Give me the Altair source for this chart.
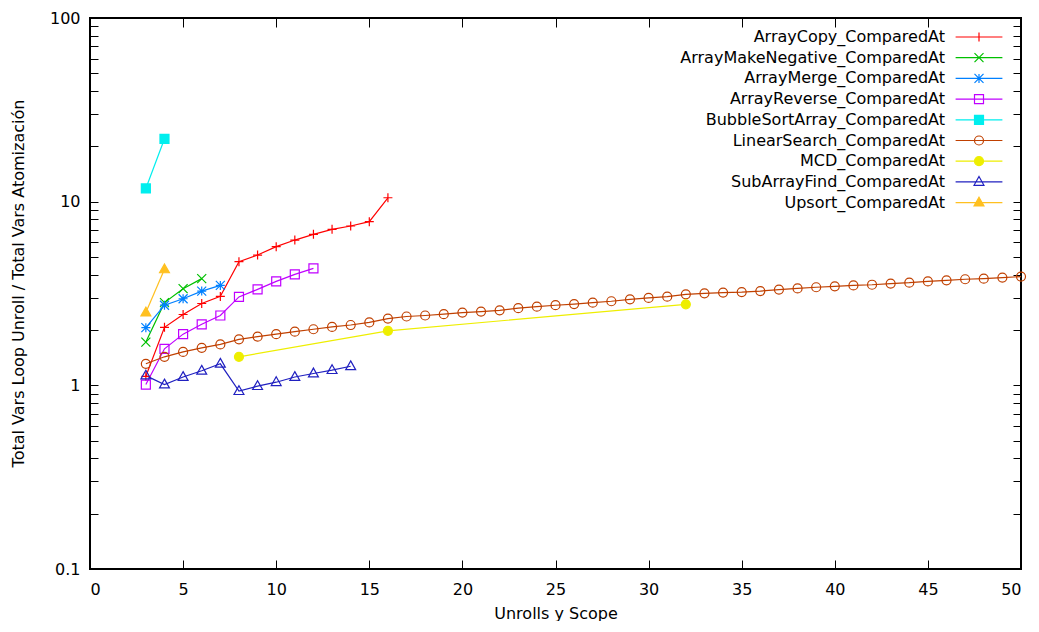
import altair as alt
import pandas as pd

series_names = [
    "ArrayCopy_ComparedAt",
    "ArrayMakeNegative_ComparedAt",
    "ArrayMerge_ComparedAt",
    "ArrayReverse_ComparedAt",
    "BubbleSortArray_ComparedAt",
    "LinearSearch_ComparedAt",
    "MCD_ComparedAt",
    "SubArrayFind_ComparedAt",
    "Upsort_ComparedAt",
]
colors = ["#ff0000", "#00c000", "#0080ff", "#c000ff", "#00eeee",
          "#c04000", "#eeee00", "#2020c0", "#ffc020"]

array_copy_x = [3, 4, 5, 6, 7, 8, 9, 10, 11, 12, 13, 14, 15, 16]
array_copy_y = [1.12, 2.07, 2.43, 2.79, 3.05, 4.71, 5.12, 5.69, 6.18, 6.64, 7.07, 7.37, 7.78, 10.5]

array_make_negative_x = [3, 4, 5, 6]
array_make_negative_y = [1.72, 2.82, 3.36, 3.81]

array_merge_x = [3, 4, 5, 6, 7]
array_merge_y = [2.06, 2.73, 2.96, 3.26, 3.50]

array_reverse_x = [3, 4, 5, 6, 7, 8, 9, 10, 11, 12]
array_reverse_y = [1.01, 1.58, 1.90, 2.15, 2.40, 3.03, 3.33, 3.68, 4.02, 4.33]

bubble_sort_x = [3, 4]
bubble_sort_y = [11.8, 22.0]

linear_search_x = list(range(3, 51))
linear_search_y = [1.31, 1.43, 1.52, 1.60, 1.67, 1.78, 1.84, 1.90, 1.96, 2.02,
                   2.08, 2.13, 2.20, 2.31, 2.37, 2.40, 2.44, 2.49, 2.52, 2.56,
                   2.63, 2.68, 2.73, 2.77, 2.82, 2.87, 2.94, 2.99, 3.04, 3.13,
                   3.17, 3.20, 3.22, 3.26, 3.32, 3.37, 3.42, 3.46, 3.50, 3.53,
                   3.58, 3.62, 3.68, 3.73, 3.78, 3.81, 3.86, 3.91]

mcd_x = [8, 16, 32]
mcd_y = [1.43, 1.98, 2.76]

sub_array_find_x = [3, 4, 5, 6, 7, 8, 9, 10, 11, 12, 13, 14]
sub_array_find_y = [1.13, 1.01, 1.11, 1.20, 1.31, 0.93, 0.99, 1.04, 1.11, 1.16, 1.21, 1.27]

upsort_x = [3, 4]
upsort_y = [2.49, 4.28]

x_ticks = [0, 5, 10, 15, 20, 25, 30, 35, 40, 45, 50]
y_ticks = [0.1, 0.2, 0.3, 0.4, 0.5, 0.6, 0.7, 0.8, 0.9,
           1, 2, 3, 4, 5, 6, 7, 8, 9,
           10, 20, 30, 40, 50, 60, 70, 80, 90, 100]

all_x = [array_copy_x, array_make_negative_x, array_merge_x, array_reverse_x,
         bubble_sort_x, linear_search_x, mcd_x, sub_array_find_x, upsort_x]
all_y = [array_copy_y, array_make_negative_y, array_merge_y, array_reverse_y,
         bubble_sort_y, linear_search_y, mcd_y, sub_array_find_y, upsort_y]

rows = []
for name, xs, ys in zip(series_names, all_x, all_y):
    for xv, yv in zip(xs, ys):
        rows.append({"x": xv, "y": yv, "series": name})
df = pd.DataFrame(rows)

# marker shapes (gnuplot style)
PLUS = "M-1,0H1M0,-1V1"
CROSS = "M-1,-1L1,1M-1,1L1,-1"
STAR = PLUS + CROSS
SQUARE = "M-1,-1H1V1H-1Z"
CIRCLE = "M-1,0A1,1 0 1,0 1,0A1,1 0 1,0 -1,0Z"
TRIANGLE = "M0,-1.2L1.1,0.75H-1.1Z"
marker_paths = [PLUS, CROSS, STAR, SQUARE, SQUARE, CIRCLE, CIRCLE, TRIANGLE, TRIANGLE]
marker_fills = ["transparent", "transparent", "transparent", "transparent", colors[4],
                "transparent", colors[6], "transparent", colors[8]]
LEG_LINE = "M-5.2,0H5.2"
legend_paths = [LEG_LINE + p for p in marker_paths]

FONT = "DejaVu Sans"
W, H = 931, 551
XT, YT = 9, 8  # inward tick lengths

xscale = alt.Scale(domain=[0, 50], nice=False, zero=False)
yscale = alt.Scale(type="log", domain=[0.1, 100], nice=False)
color_scale = alt.Scale(domain=series_names, range=colors)

major = "(datum.value==0.1||datum.value==1||datum.value==10||datum.value==100)"

base = alt.Chart(df)

# axes are pulled inside the frame by their tick length so ticks point inward
lines = base.mark_line(strokeWidth=1.2).encode(
    x=alt.X("x:Q", scale=xscale,
            axis=alt.Axis(orient="bottom", values=x_ticks, grid=False, domain=False,
                          ticks=True, tickSize=XT, offset=-XT, labelPadding=12,
                          title="Unrolls y Scope", titleY=44 + XT, titleBaseline="middle")),
    y=alt.Y("y:Q", scale=yscale,
            axis=alt.Axis(orient="left", values=y_ticks, grid=False, format="~g",
                          labelExpr=f"{major} ? datum.label : ''",
                          domain=False, ticks=True, tickSize=YT, offset=-YT, labelPadding=10,
                          title="Total Vars Loop Unroll / Total Vars Atomización",
                          titleX=-72 - YT, titleY=265, titleBaseline="middle")),
    color=alt.Color("series:N", scale=color_scale, legend=None),
    detail="series:N",
)

points = base.mark_point(size=81, strokeWidth=1.2, opacity=1, filled=False).encode(
    x=alt.X("x:Q", scale=xscale,
            axis=alt.Axis(orient="top", values=x_ticks, grid=False, domain=False,
                          labels=False, ticks=True, tickSize=XT, offset=-XT, title=None)),
    y=alt.Y("y:Q", scale=yscale,
            axis=alt.Axis(orient="right", values=y_ticks, grid=False, domain=False,
                          labels=False, ticks=True, tickSize=YT, offset=-YT, title=None)),
    color=alt.Color("series:N", scale=color_scale, legend=None),
    fill=alt.Fill("series:N", scale=alt.Scale(domain=series_names, range=marker_fills), legend=None),
    shape=alt.Shape("series:N", scale=alt.Scale(domain=series_names, range=marker_paths), legend=None),
)

leg = alt.Legend(orient="none", legendX=881, legendY=11, title=None,
                 labelAlign="right", labelOffset={"expr": "-42"}, labelFont=FONT,
                 labelFontSize=16, labelColor="black", labelLimit=400,
                 symbolSize=81, symbolStrokeWidth=1.2, rowPadding=4.7,
                 symbolOpacity=1, padding=0)

legend_layer = base.transform_filter("false").mark_point(size=81, strokeWidth=1.2, opacity=1, filled=False).encode(
    x=alt.X("x:Q", scale=xscale, axis=None),
    y=alt.Y("y:Q", scale=yscale, axis=None),
    stroke=alt.Stroke("series:N", scale=alt.Scale(domain=series_names, range=colors), legend=leg),
    fill=alt.Fill("series:N", scale=alt.Scale(domain=series_names, range=marker_fills), legend=leg),
    shape=alt.Shape("series:N", scale=alt.Scale(domain=series_names, range=legend_paths), legend=leg),
)

chart = alt.layer(lines, points, legend_layer).resolve_scale(
    stroke="independent", fill="independent", shape="independent"
).properties(
    width=W, height=H,
    autosize=alt.AutoSizeParams(type="none"),
    padding={"left": 82, "top": 10, "right": 10, "bottom": 52},
).configure(font=FONT).configure_view(stroke="black", strokeWidth=2).configure_axis(
    tickColor="black", tickWidth=1,
    labelColor="black", labelFont=FONT, labelFontSize=16,
    titleColor="black", titleFont=FONT, titleFontSize=16, titleFontWeight="normal",
)

chart.save("out.html", embed_options={"renderer": "svg", "actions": False})
